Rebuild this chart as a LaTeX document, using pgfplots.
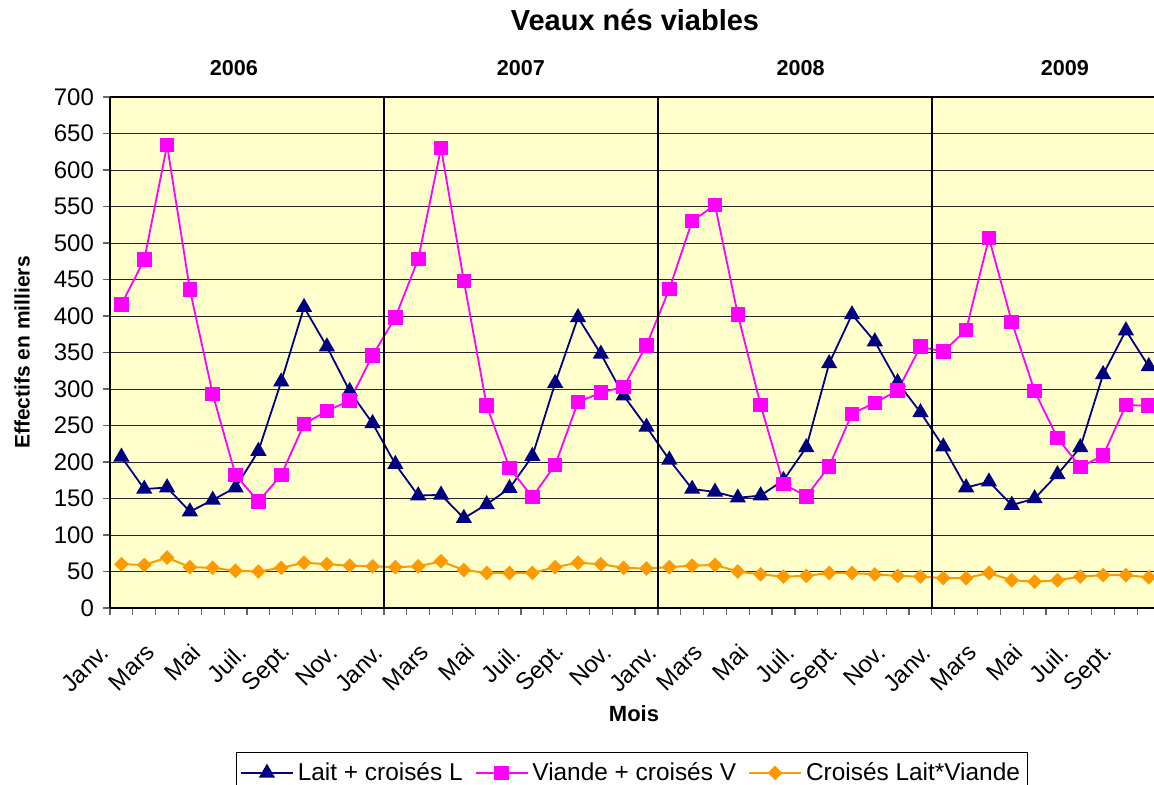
\documentclass[border=0pt]{standalone}
\usepackage{pgfplots}
\usepackage{pgfplotstable}
\pgfplotsset{compat=1.18}
\usepackage{fontspec}
\setmainfont{Liberation Sans}
\definecolor{bgyellow}{RGB}{255,255,204}
\definecolor{navyL}{RGB}{0,0,128}
\definecolor{magV}{RGB}{255,0,255}
\definecolor{orgC}{RGB}{255,153,0}

\pgfplotstableread{
idx lait viande crois
0 207 416 60
1 163 477 59
2 165 634 69
3 132 436 56
4 148 293 55
5 165 182 51
6 215 146 50
7 310 182 55
8 412 252 62
9 358 270 60
10 297 284 58
11 253 346 57
12 197 398 56
13 154 478 57
14 155 630 64
15 123 448 52
16 142 277 48
17 164 192 48
18 208 152 48
19 308 196 56
20 398 282 62
21 348 295 60
22 291 303 55
23 248 360 54
24 203 437 56
25 163 530 58
26 159 552 59
27 151 402 50
28 154 278 46
29 175 170 43
30 220 153 44
31 335 194 48
32 402 266 48
33 365 281 46
34 309 298 44
35 268 358 43
36 221 351 41
37 165 381 41
38 173 507 48
39 141 392 38
40 150 297 36
41 183 233 38
42 220 193 43
43 320 209 45
44 380 278 45
45 331 277 42
}\data

\begin{document}
\begin{tikzpicture}
\begin{axis}[
  scale only axis, width=522pt, height=255.5pt,
  at={(0,0)}, anchor=south west,
  xmin=-0.5, xmax=45.23, ymin=0, ymax=700,
  clip=false,
  axis y line*=left,
  axis line style={line width=1pt},
  axis background/.style={fill=bgyellow},
  /pgf/number format/assume math mode=true,
  ytick={0,50,...,700},
  ymajorgrids, major grid style={black!85, line width=0.5pt},
  xtick={0,2,...,44},
  xticklabels={Janv.,Mars,Mai,Juil.,Sept.,Nov.,Janv.,Mars,Mai,Juil.,Sept.,Nov.,Janv.,Mars,Mai,Juil.,Sept.,Nov.,Janv.,Mars,Mai,Juil.,Sept.},
  minor xtick={-0.5,0.5,...,45.5},
  xtick pos=bottom, ytick pos=left,
  tick align=outside,
  major tick length=3.5pt, minor tick length=3.5pt,
  major x tick style={draw=none},
  minor x tick style={draw=black!60, line width=0.6pt},
  major y tick style={draw=black!60, line width=0.6pt},
  ticklabel style={font=\fontsize{12}{12}\selectfont},
  yticklabel style={xshift=-1pt},
  xticklabel style={xshift=-5.8pt, yshift=-14.3pt, rotate=45, anchor=east},
  legend columns=3,
  legend style={at={(axis description cs:0.5,0)}, anchor=north, yshift=-72pt,
    draw=black, line width=0.5pt, font=\fontsize{12.2}{14}\selectfont,
    inner xsep=2pt, inner ysep=3pt,
    /tikz/every even column/.append style={column sep=4pt}},
  legend image code/.code={\draw[#1] (0pt,0pt) -- (26pt,0pt);
     \draw[#1, only marks] plot coordinates {(13pt,0pt)};},
]
\addplot[navyL, line width=0.9pt, mark=triangle*, mark size=3.8pt] table[x=idx,y=lait] {\data};
\addlegendentry{Lait + croisés L}
\addplot[magV, line width=0.9pt, mark=square*, mark size=3.2pt] table[x=idx,y=viande] {\data};
\addlegendentry{Viande + croisés V}
\addplot[orgC, line width=1pt, mark=square*, mark size=2.1pt, mark options={rotate=45}] table[x=idx,y=crois] {\data};
\addlegendentry{Croisés Lait*Viande}
\draw[black, line width=1pt] (axis cs:11.5,0) -- (axis cs:11.5,700);
\draw[black, line width=1pt] (axis cs:23.5,0) -- (axis cs:23.5,700);
\draw[black, line width=1pt] (axis cs:35.5,0) -- (axis cs:35.5,700);
\node[font=\bfseries\fontsize{10.8}{12}\selectfont] at (axis cs:4.93,0) [yshift=270pt] {2006};
\node[font=\bfseries\fontsize{10.8}{12}\selectfont] at (axis cs:17.5,0) [yshift=270pt] {2007};
\node[font=\bfseries\fontsize{10.8}{12}\selectfont] at (axis cs:29.75,0) [yshift=270pt] {2008};
\node[font=\bfseries\fontsize{10.8}{12}\selectfont] at (axis cs:41.33,0) [yshift=270pt] {2009};
\end{axis}
\node[font=\bfseries\fontsize{14.5}{16}\selectfont] at (262.5pt,294pt) {Veaux nés viables};
\node[font=\bfseries\fontsize{11}{12}\selectfont] at (262pt,-53pt) {Mois};
\node[font=\bfseries\fontsize{10.5}{12}\selectfont, rotate=90] at (-44pt,127.75pt) {Effectifs en milliers};
\pgfresetboundingbox
\useasboundingbox (-55pt,-88.5pt) rectangle (522pt,304pt);
\end{tikzpicture}
\end{document}
